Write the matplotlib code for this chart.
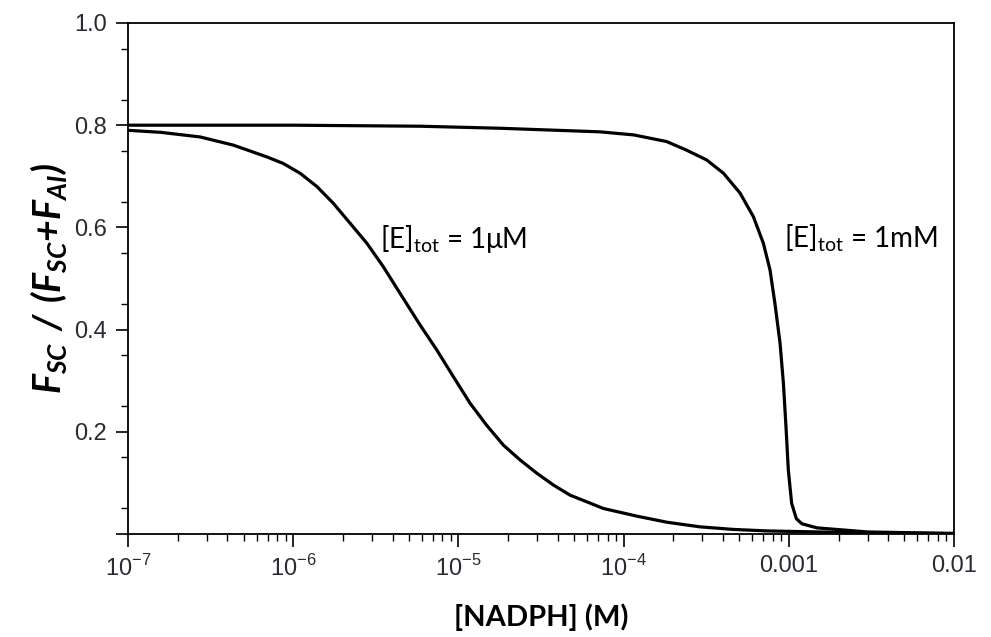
import numpy as np
import matplotlib
matplotlib.use('Agg')
import matplotlib.pyplot as plt
from matplotlib.ticker import LogLocator, FixedLocator, NullFormatter

plt.rcParams['font.family'] = ['Liberation Sans', 'DejaVu Sans']
plt.rcParams['mathtext.fontset'] = 'custom'
plt.rcParams['mathtext.rm'] = 'Liberation Sans'
plt.rcParams['mathtext.sf'] = 'Lato'
plt.rcParams['mathtext.bfit'] = 'Lato:bold:italic'

# curve values
nadph_1uM = [1.0e-7, 1.58e-7, 2.73e-7, 4.34e-7, 6.92e-7, 8.71e-7, 1.10e-6, 1.39e-6,
             1.75e-6, 2.21e-6, 2.79e-6, 3.51e-6, 4.43e-6, 5.86e-6, 7.40e-6, 9.31e-6,
             1.175e-5, 1.48e-5, 1.87e-5, 2.36e-5, 2.98e-5, 3.75e-5, 4.74e-5, 5.98e-5,
             7.53e-5, 1.20e-4, 1.83e-4, 2.90e-4, 4.59e-4, 7.38e-4, 3.16e-3, 1.0e-2]
frac_1uM = [0.790, 0.786, 0.777, 0.761, 0.738, 0.725, 0.706, 0.680,
            0.647, 0.608, 0.569, 0.523, 0.471, 0.409, 0.360, 0.308,
            0.256, 0.213, 0.174, 0.145, 0.119, 0.096, 0.076, 0.063,
            0.050, 0.035, 0.023, 0.014, 0.009, 0.006, 0.002, 0.001]

nadph_1mM = [1.0e-7, 1.0e-6, 5.86e-6, 1.79e-5, 7.20e-5, 1.15e-4, 1.82e-4, 2.41e-4,
             3.18e-4, 4.02e-4, 5.07e-4, 6.10e-4, 7.01e-4, 7.69e-4, 8.24e-4, 8.85e-4,
             9.27e-4, 9.61e-4, 9.93e-4, 1.04e-3, 1.11e-3, 1.20e-3, 1.48e-3, 3.0e-3,
             1.0e-2]
frac_1mM = [0.800, 0.800, 0.798, 0.794, 0.787, 0.781, 0.768, 0.751,
            0.732, 0.706, 0.667, 0.621, 0.569, 0.517, 0.451, 0.373,
            0.295, 0.210, 0.125, 0.060, 0.030, 0.020, 0.012, 0.004,
            0.001]

xtick_vals = [1e-7, 1e-6, 1e-5, 1e-4, 1e-3, 1e-2]
xtick_labels = ['10$^{-7}$', '10$^{-6}$', '10$^{-5}$', '10$^{-4}$', '0.001', '0.01']
ytick_vals = [0, 0.2, 0.4, 0.6, 0.8, 1.0]
ytick_labels = ['', '0.2', '0.4', '0.6', '0.8', '1.0']

fig = plt.figure(figsize=(9.91, 6.37), dpi=100)
ax = fig.add_axes([0.1292, 0.1617, 0.8335, 0.8022])

ax.plot(nadph_1uM, frac_1uM, color='black', lw=2.3, solid_joinstyle='round')
ax.plot(nadph_1mM, frac_1mM, color='black', lw=2.3, solid_joinstyle='round')

ax.set_xscale('log')
ax.set_xlim(1e-7, 1e-2)
ax.set_ylim(0, 1.0)

ax.set_xticks(xtick_vals)
ax.set_xticklabels(xtick_labels)
ax.xaxis.set_minor_locator(LogLocator(base=10, subs=np.arange(2, 10)))
ax.xaxis.set_minor_formatter(NullFormatter())
ax.set_yticks(ytick_vals)
ax.set_yticklabels(ytick_labels)
ax.yaxis.set_minor_locator(FixedLocator(np.arange(0.05, 1.0, 0.1)))

ax.tick_params(which='major', direction='out', length=9, width=1.2,
               labelsize=17, labelcolor='#2a2a33', pad=6)
ax.tick_params(which='minor', direction='out', length=5, width=1.0)
ax.tick_params(top=False, right=False, which='both')
for s in ax.spines.values():
    s.set_linewidth(1.3)

ax.set_xlabel('[NADPH] (M)', fontsize=21, fontweight='bold', family='Lato', labelpad=16)
ax.set_ylabel(r'$\mathbfit{F_{SC}\ /\ (F_{SC}{+}F_{AI})}$', fontsize=27, labelpad=4)

ax.text(3.35e-6, 0.578, r'$\mathsf{[E]_{tot}}$ = 1μM', fontsize=20, family='Lato', va='center')
ax.text(9.4e-4, 0.578, r'$\mathsf{[E]_{tot}}$ = 1mM', fontsize=20, family='Lato', va='center')

fig.savefig('out.png', dpi=100)
